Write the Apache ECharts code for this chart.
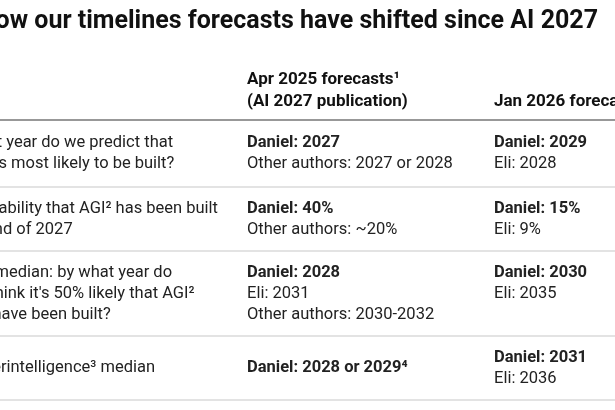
<!DOCTYPE html>
<html>
<head>
<meta charset="utf-8">
<script src="https://cdn.jsdelivr.net/npm/echarts@6/dist/echarts.min.js"></script>
<style>html,body{margin:0;padding:0;background:#fff}#main{width:615px;height:410px}</style>
</head>
<body>
<div id="main"></div>
<script>
var title = 'How our timelines forecasts have shifted since AI 2027';
var headers = [[''], ['Apr 2025 forecasts¹', '(AI 2027 publication)'], ['Jan 2026 forecasts']];
// each cell: list of [text, bold]
var questions = [
    [['What year do we predict that', 0], ['AGI is most likely to be built?', 0]],
    [['Probability that AGI² has been built', 0], ['by end of 2027', 0]],
    [['AGI median: by what year do', 0], ['we think it\'s 50% likely that AGI²', 0], ['will have been built?', 0]],
    [['Superintelligence³ median', 0]]
];
var apr2025 = [
    [['Daniel: 2027', 1], ['Other authors: 2027 or 2028', 0]],
    [['Daniel: 40%', 1], ['Other authors: ~20%', 0]],
    [['Daniel: 2028', 1], ['Eli: 2031', 0], ['Other authors: 2030-2032', 0]],
    [['Daniel: 2028 or 2029⁴', 1]]
];
var jan2026 = [
    [['Daniel: 2029', 1], ['Eli: 2028', 0]],
    [['Daniel: 15%', 1], ['Eli: 9%', 0]],
    [['Daniel: 2030', 1], ['Eli: 2035', 0]],
    [['Daniel: 2031', 1], ['Eli: 2036', 0]]
];
var rowTopAligned = [false, false, true, false];

var colX = [-36, 247, 494];
var rowTop = [120, 187, 251, 336, 400];
var lineH = 21;
var font = 'Roboto, "Noto Sans", sans-serif';

var myChart = echarts.init(document.getElementById('main'), null, {renderer: 'canvas'});
var els = [];
els.push({type: 'text', x: 598, y: 22, style: {text: title, font: 'bold 25px ' + font, fill: '#111',
    textAlign: 'right', textVerticalAlign: 'middle'}});
headers.forEach(function (h, c) {
    h.forEach(function (t, i) {
        els.push({type: 'text', x: colX[c], y: 102 - (h.length - 1 - i) * 22, style: {
            text: t, font: 'bold 17px ' + font, fill: '#111', textVerticalAlign: 'middle'}});
    });
});
els.push({type: 'line', shape: {x1: 0, y1: rowTop[0], x2: 615, y2: rowTop[0]}, style: {stroke: '#333', lineWidth: 1.2}});
for (var r = 1; r < rowTop.length; r++) {
    els.push({type: 'line', shape: {x1: 0, y1: rowTop[r], x2: 615, y2: rowTop[r]}, style: {stroke: '#e3e3e3', lineWidth: 2}});
}
[questions, apr2025, jan2026].forEach(function (col, c) {
    col.forEach(function (cell, r) {
        var mid = (rowTop[r] + rowTop[r + 1]) / 2;
        var maxN = Math.max(questions[r].length, apr2025[r].length, jan2026[r].length);
        var y0 = rowTopAligned[r] ? mid - (maxN - 1) * lineH / 2 : mid - (cell.length - 1) * lineH / 2;
        cell.forEach(function (ln, i) {
            els.push({type: 'text', x: colX[c], y: y0 + i * lineH, style: {
                text: ln[0], font: (ln[1] ? 'bold ' : '') + '16.5px ' + font,
                fill: '#222', textVerticalAlign: 'middle'}});
        });
    });
});
myChart.setOption({backgroundColor: '#fff', graphic: {elements: els}});
</script>
</body>
</html>
